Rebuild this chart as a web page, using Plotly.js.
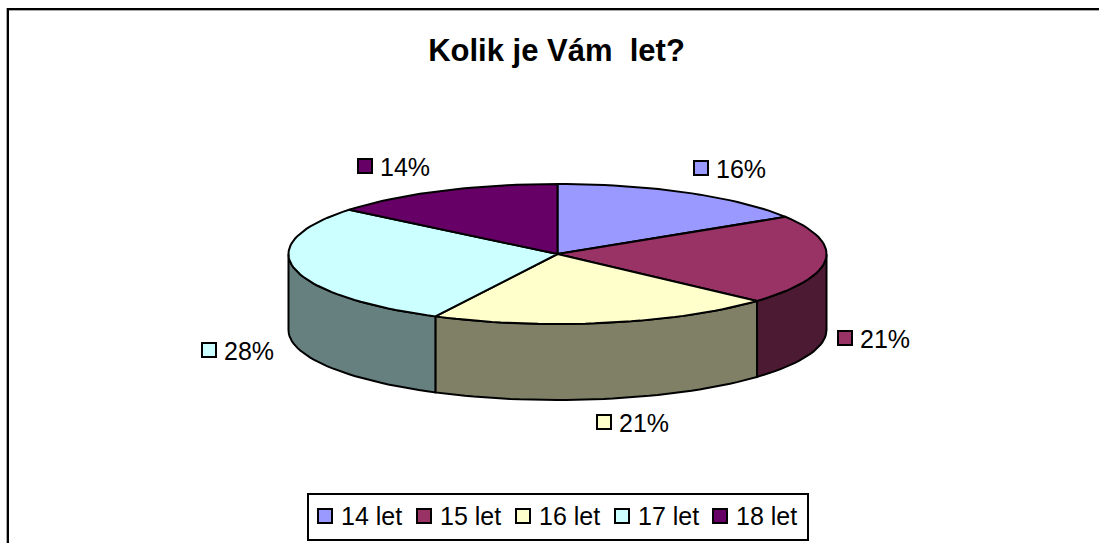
<!DOCTYPE html>
<html>
<head>
<meta charset="utf-8">
<script src="https://cdn.plot.ly/plotly-3.0.1.min.js"></script>
<style>html,body{margin:0;padding:0;background:#fff;overflow:hidden}#chart{width:1099px;height:543px}</style>
</head>
<body>
<div id="chart"></div>
<script>
const categories = ['14 let', '15 let', '16 let', '17 let', '18 let'];
const shares = [16.1, 20.6, 20.8, 28.4, 14.1];
const topColors = ['#9999FF', '#993366', '#FFFFCC', '#CCFFFF', '#660066'];
const wallColors = ['#4D4D80', '#4D1A33', '#808066', '#668080', '#330033'];
const labelX = [701, 845, 604, 209, 365];
const labelY = [168, 338, 422, 350, 166];
const legendX = [325, 424, 523, 622, 720];

const CX = 557.5, CY = 254, RX = 269, RY = 70, DEPTH = 76, STEP = 2;
const LEGEND_Y = 516, LABEL_GAP = 14, LEGEND_GAP = 15;
const FONT = '"Liberation Sans", Arial, sans-serif';
const px = t => CX + RX * Math.sin(t * Math.PI / 180);
const py = t => CY - RY * Math.cos(t * Math.PI / 180);
const total = shares.reduce((a, b) => a + b, 0);

function arc(from, to) {
  const out = [];
  for (let t = from; t < to; t += STEP) out.push(t);
  out.push(to);
  return out;
}

const traces = [];
let start = 0;
const bounds = shares.map(s => {
  const b = [start, start + s / total * 360];
  start = b[1];
  return b;
});

// visible front wall (90..270 degrees of the rim)
bounds.forEach((b, i) => {
  const from = Math.max(b[0], 90), to = Math.min(b[1], 270);
  if (to <= from) return;
  const ts = arc(from, to), rev = ts.slice().reverse();
  traces.push({
    type: 'scatter', mode: 'lines', fill: 'toself', fillcolor: wallColors[i],
    x: ts.map(px).concat(rev.map(px), [px(ts[0])]),
    y: ts.map(py).concat(rev.map(t => py(t) + DEPTH), [py(ts[0])]),
    line: {color: '#000', width: 2}, showlegend: false, hoverinfo: 'skip'
  });
});

// top face
bounds.forEach((b, i) => {
  const ts = arc(b[0], b[1]);
  traces.push({
    type: 'scatter', mode: 'lines', fill: 'toself', fillcolor: topColors[i], name: categories[i],
    x: [CX].concat(ts.map(px), [CX]),
    y: [CY].concat(ts.map(py), [CY]),
    line: {color: '#000', width: 2}, showlegend: false, hoverinfo: 'skip'
  });
});

const swatch = i => ({symbol: 'square', size: 14, color: topColors[i], line: {color: '#000', width: 2}});

// percentage label keys and legend keys
categories.forEach((c, i) => {
  traces.push({
    type: 'scatter', mode: 'markers', name: c,
    x: [labelX[i], legendX[i]], y: [labelY[i], LEGEND_Y],
    marker: swatch(i), showlegend: false, hoverinfo: 'skip'
  });
});

const textFont = {family: FONT, size: 25, color: '#000'};
const textAt = (x, y, text) => ({
  x: x, y: y, xref: 'x', yref: 'y', text: text, showarrow: false,
  xanchor: 'left', yanchor: 'middle', borderpad: 0, font: textFont
});
const annotations = [];
categories.forEach((c, i) => {
  annotations.push(textAt(labelX[i] + LABEL_GAP, labelY[i] + 1, Math.round(shares[i] / total * 100) + '%'));
  annotations.push(textAt(legendX[i] + LEGEND_GAP, LEGEND_Y, c));
});

const layout = {
  width: 1099, height: 543,
  margin: {l: 0, r: 0, t: 0, b: 0},
  paper_bgcolor: '#fff', plot_bgcolor: '#fff',
  showlegend: false,
  title: {text: '<b>Kolik je Vám  let?</b>', font: {family: FONT, size: 31, color: '#000'},
          x: 556.5 / 1099, xanchor: 'center', y: 1 - 50 / 543, yanchor: 'middle'},
  xaxis: {range: [0, 1099], visible: false, fixedrange: true},
  yaxis: {range: [543, 0], visible: false, fixedrange: true},
  annotations: annotations,
  shapes: [
    {type: 'line', x0: 7, x1: 1099, y0: 10.5, y1: 10.5, line: {color: '#aaa', width: 1}},
    {type: 'line', x0: 6.5, x1: 6.5, y0: 8, y1: 543, line: {color: '#aaa', width: 1}},
    {type: 'line', x0: 7, x1: 1099, y0: 9, y1: 9, line: {color: '#000', width: 2}},
    {type: 'line', x0: 8, x1: 8, y0: 8, y1: 543, line: {color: '#000', width: 2}},
    {type: 'rect', x0: 308, x1: 808, y0: 494, y1: 540, line: {color: '#000', width: 2}, fillcolor: 'rgba(0,0,0,0)'}
  ]
};

Plotly.newPlot('chart', traces, layout, {displayModeBar: false, staticPlot: true});
</script>
</body>
</html>
